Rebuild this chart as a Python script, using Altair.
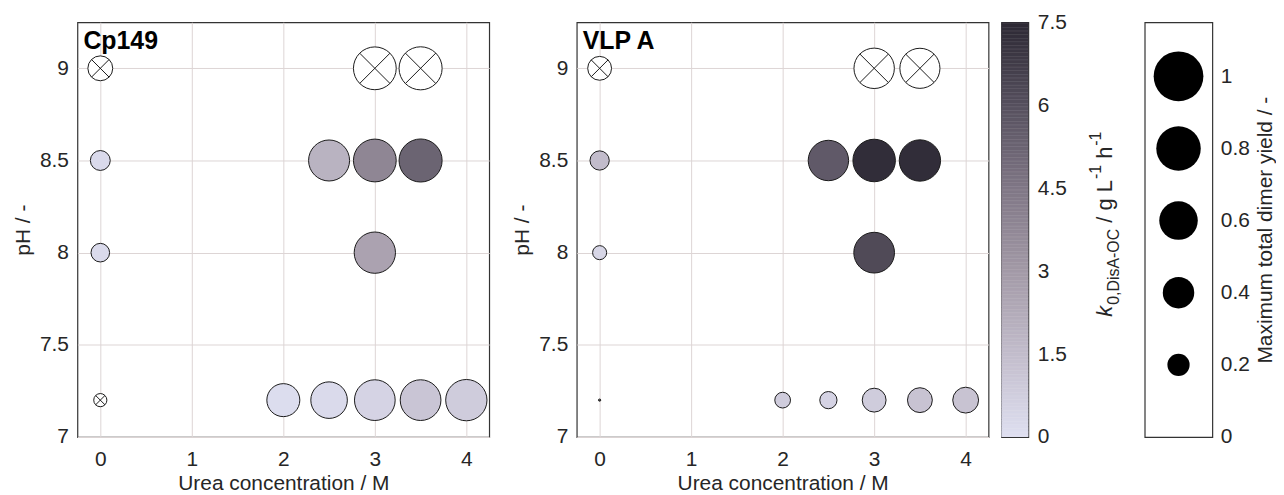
import altair as alt
import pandas as pd
import numpy as np

FONT = "Liberation Sans"
TXT = "#262626"
EDGE = "#1a1a1a"

# ---------------- axis ticks ----------------
x_ticks = [0, 1, 2, 3, 4]
y_ticks = [7, 7.5, 8, 8.5, 9]
rate_ticks = [0, 1.5, 3, 4.5, 6, 7.5]
yield_ticks = [0, 0.2, 0.4, 0.6, 0.8, 1]

# ---------------- colormap ----------------
cmap_values = [0, 1.5, 3, 4.5, 6, 7.5]
cmap_colors = ["#dedff0", "#c2bccb", "#a299a6", "#7f7685", "#554f5d", "#2c2833"]

# ---------------- Cp149 ----------------
cp_urea = [0, 2.5, 3, 3.5, 0, 3, 2, 2.5, 3, 3.5, 4]
cp_ph = [8.5, 8.5, 8.5, 8.5, 8, 8, 7.2, 7.2, 7.2, 7.2, 7.2]
cp_yield = [0.16, 0.68, 0.74, 0.75, 0.14, 0.69, 0.44, 0.54, 0.67, 0.67, 0.69]
cp_rate = [0.2, 1.9, 3.8, 5.2, 0.2, 2.6, 0.1, 0.2, 0.5, 1.1, 0.8]
# crossed (no rate)
cp_x_urea = [0, 3, 3.5, 0]
cp_x_ph = [9, 9, 9, 7.2]
cp_x_yield = [0.25, 0.74, 0.75, 0.07]

# ---------------- VLP A ----------------
vlp_urea = [0, 2.5, 3, 3.5, 0, 3, 2, 2.5, 3, 3.5, 4]
vlp_ph = [8.5, 8.5, 8.5, 8.5, 8, 8, 7.2, 7.2, 7.2, 7.2, 7.2]
vlp_yield = [0.15, 0.66, 0.73, 0.69, 0.08, 0.67, 0.10, 0.12, 0.23, 0.25, 0.27]
vlp_rate = [1.5, 5.6, 7.3, 7.3, 0.4, 6.2, 0.8, 0.5, 0.8, 1.2, 1.2]
vlp_x_urea = [0, 3, 3.5, 0]
vlp_x_ph = [9, 9, 9, 7.2]
vlp_x_yield = [0.23, 0.66, 0.65, 0.002]

# ---------------- size legend ----------------
legend_yield = [0.2, 0.4, 0.6, 0.8, 1.0]

XPATH = "M-0.7071,-0.7071L0.7071,0.7071M-0.7071,0.7071L0.7071,-0.7071"

xs = alt.Scale(domain=[-0.25, 4.25], nice=False, zero=False)
ys = alt.Scale(domain=[7, 9.25], nice=False, zero=False)
ss = alt.Scale(domain=[0, 1], range=[0, 2500], zero=True)
cs = alt.Scale(domain=cmap_values, range=cmap_colors, interpolate="rgb")

PW, PH = 414, 417
AX = dict(labelFont=FONT, labelFontSize=21, labelColor=TXT,
          titleFont=FONT, titleFontSize=21, titleFontWeight="normal", titleColor=TXT)


def panel(name, urea, ph, yld, rate, xurea, xph, xyld):
    filled = pd.DataFrame(dict(urea=urea, ph=ph, yld=yld, rate=rate))
    crossed = pd.DataFrame(dict(urea=xurea, ph=xph, yld=xyld))
    xenc = alt.X("urea:Q", scale=xs,
                 axis=alt.Axis(values=x_ticks, format="d", title="Urea concentration / M",
                               grid=True, ticks=False, domain=False,
                               labelPadding=12, titlePadding=3, **AX))
    yenc = alt.Y("ph:Q", scale=ys,
                 axis=alt.Axis(values=y_ticks, format=".1~f", title="pH / -",
                               grid=True, ticks=False, domain=False,
                               labelPadding=9, titlePadding=6, **AX))
    senc = alt.Size("yld:Q", scale=ss, legend=None)
    f = alt.Chart(filled).mark_circle(opacity=1, stroke=EDGE, strokeWidth=1).encode(
        x=xenc, y=yenc, size=senc,
        color=alt.Color("rate:Q", scale=cs, legend=None))
    cbase = alt.Chart(crossed).encode(x=xenc, y=yenc, size=senc)
    c1 = cbase.mark_circle(fill="white", opacity=1, stroke=EDGE, strokeWidth=1)
    c2 = cbase.mark_point(shape=XPATH, filled=False, stroke=EDGE, strokeWidth=1, opacity=1)
    label = alt.Chart(pd.DataFrame({"t": [name]})).mark_text(
        align="left", baseline="alphabetic", fontSize=25, fontWeight="bold",
        font=FONT, color="black").encode(text="t:N", x=alt.value(6), y=alt.value(27))
    return alt.layer(c1, c2, f, label).properties(width=PW, height=PH)


left = panel("Cp149", cp_urea, cp_ph, cp_yield, cp_rate, cp_x_urea, cp_x_ph, cp_x_yield)
mid = panel("VLP A", vlp_urea, vlp_ph, vlp_yield, vlp_rate, vlp_x_urea, vlp_x_ph, vlp_x_yield)

# ---------------- colour bar ----------------
step = 0.025
cb_v = np.round(np.arange(0, 7.5, step), 4)
cbdf = pd.DataFrame({"v": cb_v, "v2": np.minimum(cb_v + step * 1.3, 7.5)})
cb_rect = alt.Chart(cbdf).mark_rect(strokeWidth=0).encode(
    y=alt.Y("v:Q", scale=alt.Scale(domain=[0, 7.5], nice=False, zero=False),
            axis=alt.Axis(orient="right", values=rate_ticks, format=".1~f", title=None,
                          ticks=False, domain=False, grid=False, labelPadding=9, **AX)),
    y2="v2:Q",
    color=alt.Color("v:Q", scale=cs, legend=None))

# title pieces: k_{0,DisA-OC} / g L^{-1} h^{-1}, rotated to read bottom-to-top
NB = "\u00a0"
W = {'k': 500, '0': 556, ',': 278, 'D': 722, 'i': 222, 's': 500, 'A': 667, '-': 333,
     'O': 778, 'C': 722, NB: 278, '/': 278, 'g': 556, 'L': 556, '1': 556, 'h': 556}
MAIN, SUB = 22, 16
SP = 0.278 * MAIN
# (text, font size, style, baseline x, gap before)
pieces = [("k", MAIN, "italic", 111, 0), ("0,DisA-OC", SUB, "normal", 118, 1),
          ("/" + NB + "g" + NB + "L", MAIN, "normal", 111, SP), ("-1", SUB, "normal", 100, 1),
          ("h", MAIN, "normal", 111, SP), ("-1", SUB, "normal", 100, 1)]
lens = [g + sum(W[c] for c in t) / 1000 * s for t, s, _, _, g in pieces]
total = sum(lens)
start = 203 + total / 2
cb_layers = [cb_rect]
pos = start
for (t, s, st, bx, g), ln in zip(pieces, lens):
    pos -= g
    cb_layers.append(
        alt.Chart(pd.DataFrame({"t": [t]})).mark_text(
            align="left", baseline="alphabetic", angle=270, fontSize=s, fontStyle=st,
            font=FONT, color=TXT).encode(text="t:N", x=alt.value(bx), y=alt.value(pos)))
    pos -= ln - g
cbar = alt.layer(*cb_layers).properties(width=27, height=PH)

# ---------------- size legend ----------------
sleg = alt.Chart(pd.DataFrame({"yv": legend_yield})).mark_circle(color="black", opacity=1).encode(
    y=alt.Y("yv:Q", scale=alt.Scale(domain=[0, 1.15], nice=False, zero=False),
            axis=alt.Axis(orient="right", values=yield_ticks, format=".1~f",
                          title="Maximum total dimer yield / -", titleAngle=270,
                          titleBaseline="top", titleAlign="center",
                          ticks=False, domain=False, grid=False,
                          labelPadding=8, titlePadding=5, **AX)),
    size=alt.Size("yv:Q", scale=ss, legend=None)).properties(width=68, height=PH)

chart = alt.hconcat(
    alt.hconcat(left, mid, spacing=21),
    alt.hconcat(cbar, sleg, spacing=21),
    spacing=11,
).properties(
    padding={"left": 3.8, "top": 1, "right": 0, "bottom": 0}, background="white"
).configure_view(stroke="#333333", strokeWidth=1.2).configure_axis(
    gridColor="#ddd5d5", gridWidth=1
)

chart.save("out.html", embed_options={"renderer": "svg", "actions": False})
